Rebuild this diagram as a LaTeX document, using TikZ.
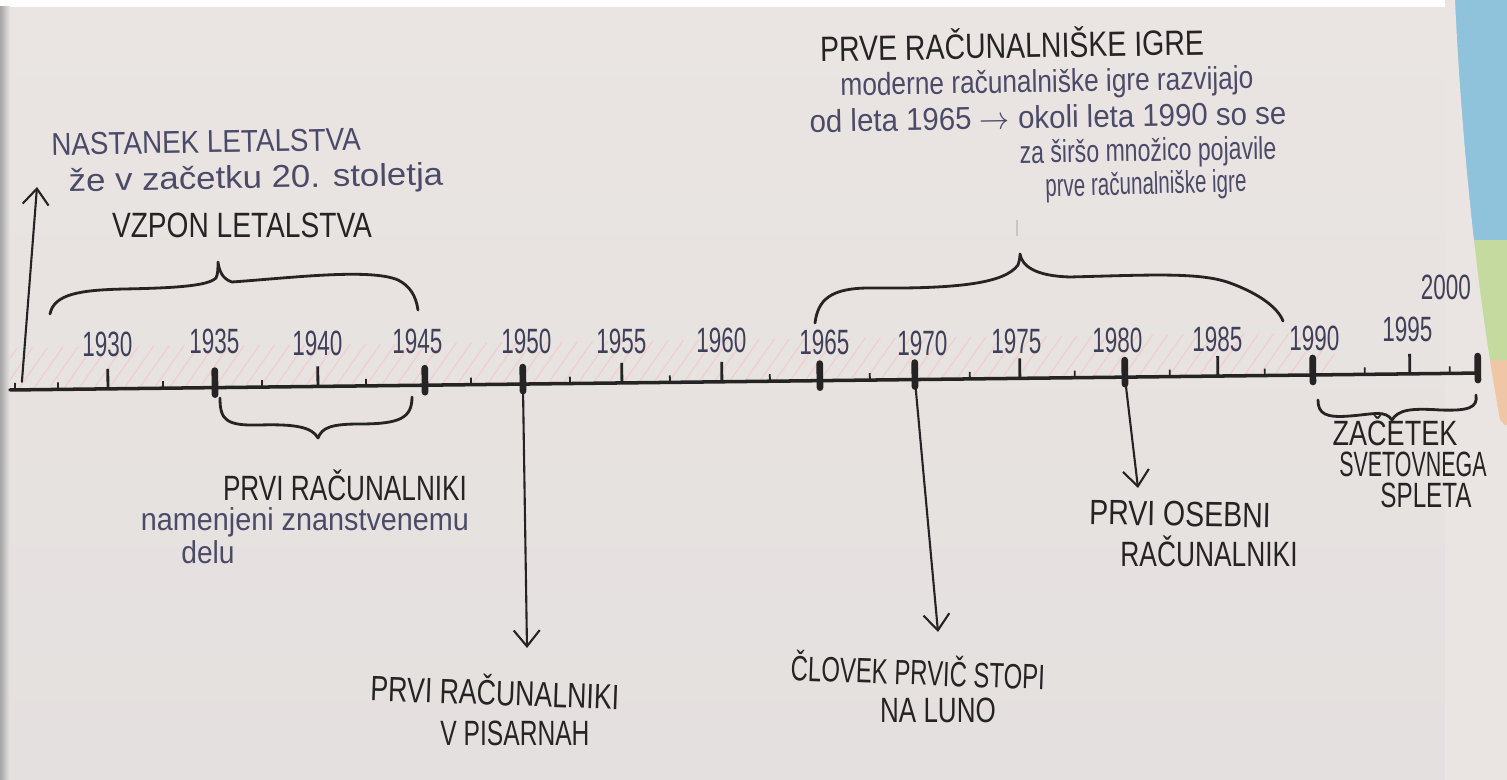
\documentclass[tikz,border=0pt]{standalone}
\usepackage{fontspec}
\setmainfont{Liberation Sans}
\usepackage{graphicx}
\usetikzlibrary{arrows.meta,patterns.meta}

\definecolor{paper}{HTML}{EAE5E2}
\definecolor{paperlo}{HTML}{E4E0DF}
\definecolor{ink}{HTML}{262324}
\definecolor{pen}{HTML}{4B4A68}
\definecolor{hatch}{HTML}{EFD0D0}
\definecolor{mapblue}{HTML}{8FC2DB}
\definecolor{mapgreen}{HTML}{C5DA9E}
\definecolor{mappeach}{HTML}{EFC7A6}

% squeeze handwriting sideways
\newcommand{\hw}[2]{\scalebox{#1}[1]{#2}}

\tikzset{
  marker/.style={text=ink, font=\fontsize{10}{12}\selectfont, inner sep=0pt},
  note/.style={text=pen, font=\fontsize{9}{11}\selectfont, inner sep=0pt},
  year/.style={text=pen!85!black, font=\fontsize{10}{12}\selectfont, inner sep=0pt},
  stroke/.style={draw=ink, line width=0.8pt, line cap=round, line join=round},
  bigtick/.style={draw=ink, line width=1.9pt, line cap=round},
  pointer/.style={draw=ink, line width=0.6pt, line cap=round,
    -{Straight Barb[length=1.6mm, width=2.6mm, line width=0.6pt]}},
}

\begin{document}
\begin{tikzpicture}[x=0.1mm, y=-0.1mm]
\useasboundingbox (0,0) rectangle (1507,780);

% paper and what lies round it
\shade[top color=paper, bottom color=paperlo] (0,0) rectangle (1507,780);
\fill[white] (0,0) rectangle (1507,7);
\shade[left color=gray!70, right color=paper] (0,7) rectangle (10,780);
\fill[mapblue] (1445,0) rectangle (1507,240);
\fill[mapgreen] (1445,240) rectangle (1507,360);
\fill[mappeach] (1445,360) rectangle (1507,425);
\fill[paper] (1445,0) -- (1455,0) .. controls (1462,150) and (1478,300) .. (1500,420)
  -- (1507,428) -- (1507,780) -- (1445,780) -- cycle;

% the time axis
\begin{scope}[shift={(10,390)}, rotate=0.66]
  \fill[pattern={Lines[angle=55, distance=3.5pt, line width=0.4pt]}, pattern color=hatch]
    (0,-2) rectangle (1325,-42);
  \draw[stroke, line width=1pt] (0,0) -- (1468,0);
  \foreach \px in {5,48,153,252,356,461,560,660,760,860,960,1065,1160,1255,1355,1440}
    \draw[ink, line width=0.5pt] (\px,0) -- (\px,-7);
  \foreach \yr/\px in {1930/98,1940/308,1955/612,1960/712,1975/1010,1985/1208,1995/1400}
  {
    \draw[ink, line width=0.8pt] (\px,0) -- (\px,-20);
    \coordinate (t\yr) at (\px,0);
  }
  \foreach \yr/\px in {1935/205,1945/415,1950/513,1965/810,1970/905,1980/1115,1990/1303,2000/1468}
  {
    \draw[bigtick] (\px,7) -- (\px,-17);
    \coordinate (t\yr) at (\px,0);
  }
  \foreach \yr/\lx/\ly in {1930/98/-44,1935/205/-46,1940/308/-43,1945/408/-44,
      1950/517/-43,1955/612/-42,1960/712/-41,1965/815/-38,1970/913/-36,
      1975/1007/-37,1980/1108/-37,1985/1208/-37,1990/1305/-37,1995/1398/-44,2000/1437/-86}
    \node[year] (y\yr) at (\lx,\ly) {\hw{0.64}{\yr}};
  \coordinate (rise) at (12,-8);
\end{scope}

% rise of aviation
\coordinate (risetop) at (37,187);
\draw[pointer] (rise) -- (risetop);
\node[note, rotate=1] (nastanek) at (206,142) {\hw{0.88}{NASTANEK LETALSTVA}};
\node[note, rotate=1] (zacetek20) at (256,180) {\hw{1.1}{že v začetku 20. stoletja}};
\node[marker] (vzpon) at (242,225) {\hw{0.80}{VZPON LETALSTVA}};
\draw[stroke] (50,314) .. controls (54,294) and (80,290) .. (125,289)
  .. controls (175,288) and (208,286) .. (216,278)
  .. controls (218,274) and (218,268) .. (218,262)
  .. controls (219,270) and (222,279) .. (232,282)
  .. controls (290,278) and (370,268) .. (398,280)
  .. controls (410,286) and (416,296) .. (418,310);

% first computers
\draw[stroke] (220,398) .. controls (220,420) and (226,426) .. (260,425)
  .. controls (295,424) and (312,427) .. (318,438)
  .. controls (322,428) and (330,424) .. (360,424)
  .. controls (400,424) and (412,418) .. (412,397);
\node[marker] (racunalniki) at (345,485) {\hw{0.745}{PRVI RAČUNALNIKI}};
\node[note] (namenjeni) at (305,522) {\hw{0.91}{namenjeni znanstvenemu}};
\node[note] (delu) at (208,552) {\hw{0.89}{delu}};

% offices
\coordinate (tip1950) at (527,648);
\draw[pointer] (t1950) -- (tip1950);
\node[marker, rotate=-2] (pisarneA) at (495,690) {\hw{0.76}{PRVI RAČUNALNIKI}};
\node[marker] (pisarneB) at (515,733) {\hw{0.70}{V PISARNAH}};

% moon
\coordinate (tip1970) at (938,632);
\draw[pointer] (t1970) -- (tip1970);
\node[marker, rotate=-2] (clovek) at (918,670) {\hw{0.68}{ČLOVEK PRVIČ STOPI}};
\node[marker] (luno) at (938,710) {\hw{0.74}{NA LUNO}};

% personal computers
\coordinate (tip1980) at (1138,488);
\draw[pointer] (t1980) -- (tip1980);
\node[marker, rotate=-1] (osebniA) at (1180,514) {\hw{0.81}{PRVI OSEBNI}};
\node[marker] (osebniB) at (1209,551) {\hw{0.75}{RAČUNALNIKI}};

% web
\draw[stroke] (1318,400) .. controls (1318,414) and (1326,418) .. (1350,416)
  .. controls (1375,414) and (1385,410) .. (1392,420)
  .. controls (1398,410) and (1410,408) .. (1440,410)
  .. controls (1468,411) and (1478,408) .. (1476,395);
\node[marker] (spletA) at (1395,430) {\hw{0.77}{ZAČETEK}};
\node[marker] (spletB) at (1413,464) {\hw{0.61}{SVETOVNEGA}};
\node[marker] (spletC) at (1426,495) {\hw{0.69}{SPLETA}};

% games
\draw[stroke] (815,323) .. controls (818,300) and (830,288) .. (870,288)
  .. controls (960,289) and (1005,283) .. (1018,265)
  .. controls (1019,262) and (1020,259) .. (1020,254)
  .. controls (1022,266) and (1035,276) .. (1070,277)
  .. controls (1150,275) and (1200,272) .. (1230,283)
  .. controls (1260,294) and (1278,308) .. (1283,321);
\draw[gray!45, line width=0.3pt] (1017,220) -- (1017,236);
\node[marker, rotate=1] (igre) at (1012,43) {\hw{0.81}{PRVE RAČUNALNIŠKE IGRE}};
\node[note, rotate=1] (igreA) at (1047,84) {\hw{0.83}{moderne računalniške igre razvijajo}};
\node[note, rotate=1] (igreB) at (1048,117) {\hw{0.93}{od leta 1965 $\rightarrow$ okoli leta 1990 so se}};
\node[note, rotate=1] (igreC) at (1148,153) {\hw{0.73}{za širšo množico pojavile}};
\node[note, rotate=1.5] (igreD) at (1146,186) {\hw{0.65}{prve računalniške igre}};
\end{tikzpicture}
\end{document}
